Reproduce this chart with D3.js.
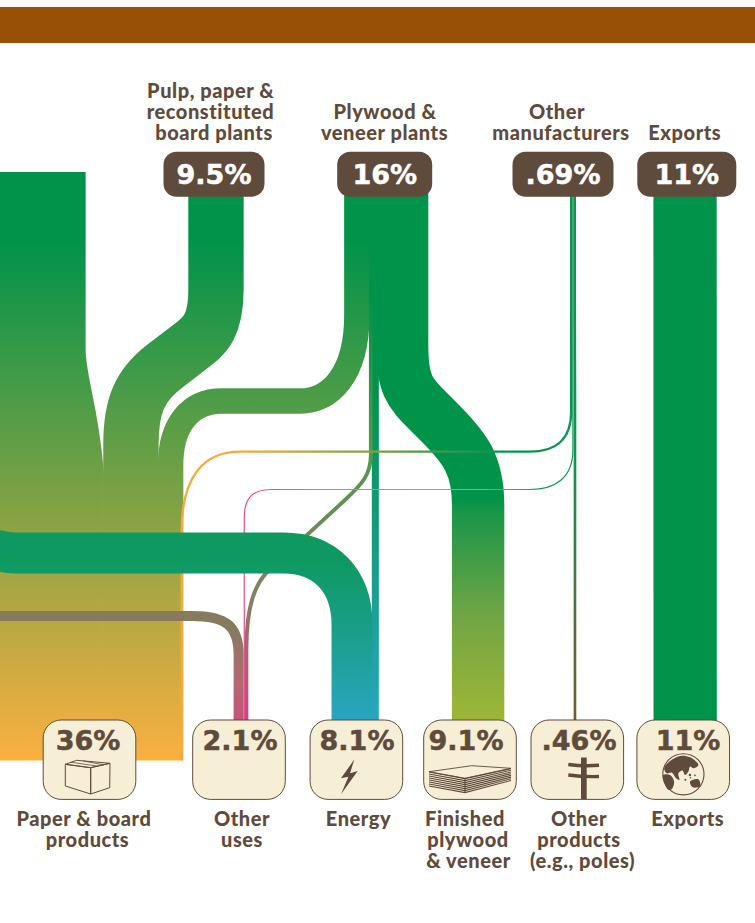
<!DOCTYPE html>
<html>
<head>
<meta charset="utf-8">
<script src="https://d3js.org/d3.v7.min.js"></script>
<style>
  html, body { margin: 0; padding: 0; background: #fff; }
  svg { display: block; }
  .name { font-family: "Lato", sans-serif; font-weight: 900; font-size: 20px; letter-spacing: 0.55px; fill: #5f4b3b; text-anchor: middle; }
  .pct { font-family: "DejaVu Sans", sans-serif; font-weight: 700; font-size: 27px; text-anchor: middle; stroke-width: 0.5px; }
</style>
</head>
<body>
<svg id="chart" width="755" height="923"></svg>
<script>
// Wood flows, in percent of the total supply
const sourceNames = ["Pulp, paper & reconstituted board plants", "Plywood & veneer plants", "Other manufacturers", "Exports"];
const sourceLabels = [["Pulp, paper &", "reconstituted", "board plants"], ["Plywood &", "veneer plants"], ["Other", "manufacturers"], ["Exports"]];
const sourcePercents = ["9.5%", "16%", ".69%", "11%"];

const targetNames = ["Paper & board products", "Other uses", "Energy", "Finished plywood & veneer", "Other products", "Export market"];
const targetLabels = [["Paper & board", "products"], ["Other", "uses"], ["Energy"], ["Finished", "plywood", "& veneer"], ["Other", "products", "(e.g., poles)"], ["Exports"]];
const targetPercents = ["36%", "2.1%", "8.1%", "9.1%", ".46%", "11%"];

const flowSources = ["Sawmills", sourceNames[0], sourceNames[1], sourceNames[2], "Sawmills", sourceNames[2], sourceNames[1], "Sawmills", sourceNames[1], sourceNames[1], sourceNames[2], sourceNames[3]];
const flowTargets = [targetNames[0], targetNames[0], targetNames[0], targetNames[0], targetNames[1], targetNames[1], targetNames[1], targetNames[2], targetNames[2], targetNames[3], targetNames[4], targetNames[5]];
const flowValues = [22.2, 9.5, 4.3, 0.4, 1.75, 0.2, 0.55, 7.0, 1.1, 9.1, 0.46, 11];

const GREEN = "#00934a", BROWN = "#5f4b3b", CREAM = "#f7eed6";

const svg = d3.select("#chart");
const defs = svg.append("defs");

// Band thickness in pixels per percentage point
const thickness = d3.scaleLinear().domain([0, 11]).range([0, 63.3]);

// Column geometry
const targetCenter = d3.scaleOrdinal().domain(targetNames).range([89.5, 239, 356.4, 470, 577.3, 683.2]);
const sourceCenter = d3.scaleOrdinal().domain(sourceNames).range([214, 384.7, 563, 686.8]);
const sourceBadgeWidth = d3.scaleOrdinal().domain(sourceNames).range([101, 95, 101, 99]);
const targetRightEdge = d3.scaleOrdinal().domain(targetNames).range([183, 248, 378.5, 504.3, 576.3, 716.8]);
const sourceEdges = new Map([[sourceNames[0], [188.7, 243.3]], [sourceNames[1], [344.5, 428.3]], [sourceNames[2], [570, 576]], [sourceNames[3], [653.4, 716.7]]]);

const flows = flowValues.map((value, i) => ({ i, value, source: flowSources[i], target: flowTargets[i], w: thickness(value) }));

// Stack bands across each target: the thin manufacturers' band rides on the outer edge of the paper column
for (const name of targetNames) {
  const group = flows.filter(f => f.target === name).reverse();
  let cursor = targetRightEdge(name);
  for (const f of group) {
    if (f.i === 3) continue;
    f.tx = cursor - f.w / 2;
    cursor -= f.w;
  }
}
flows[3].tx = targetRightEdge(targetNames[0]) - flows[3].w / 2 - 0.1;

// Stack bands across each source, the last one flush with the right edge
for (const name of sourceNames) {
  const group = flows.filter(f => f.source === name);
  const [left, right] = sourceEdges.get(name);
  let cursor = left;
  group.forEach((f, k) => {
    f.sx = k === group.length - 1 ? right - f.w / 2 : cursor + f.w / 2;
    cursor += f.w;
  });
}
flows[8].sx = flows[8].tx;

// Routing of every band's centre line
const TOP = 190, PAPER_BOTTOM = 760.5, BOX_TOP = 726;
const routes = [
  (p, f) => { const x0 = f.tx - 18.3; p.moveTo(x0, 172); p.lineTo(x0, 350); p.bezierCurveTo(x0 + 0.7, 390, f.tx - 5.7, 410, f.tx, 475); p.lineTo(f.tx, PAPER_BOTTOM); },
  (p, f) => { p.moveTo(f.sx, TOP); p.lineTo(f.sx, 290); p.bezierCurveTo(f.sx, 325, 205, 335, 195, 343); p.lineTo(165, 366); p.bezierCurveTo(140, 385, f.tx, 405, f.tx, 445); p.lineTo(f.tx, PAPER_BOTTOM); },
  (p, f) => { p.moveTo(f.sx, TOP); p.lineTo(f.sx, 315); p.bezierCurveTo(f.sx, 375, 330, 401, 300, 401); p.lineTo(222, 401); p.bezierCurveTo(190, 401, f.tx, 425, f.tx, 465); p.lineTo(f.tx, PAPER_BOTTOM); },
  (p, f) => { p.moveTo(f.sx, TOP); p.lineTo(f.sx, 412); p.bezierCurveTo(f.sx, 440, 555, 451.7, 530, 451.7); p.lineTo(240, 451.7); p.bezierCurveTo(205, 451.7, f.tx, 475, f.tx, 530); p.lineTo(f.tx, PAPER_BOTTOM); },
  (p, f) => { p.moveTo(-10, 616); p.lineTo(192, 616); p.bezierCurveTo(225, 616, f.tx, 625, f.tx, 655); p.lineTo(f.tx, BOX_TOP); },
  (p, f) => { p.moveTo(f.sx, TOP); p.lineTo(f.sx, 450); p.bezierCurveTo(f.sx, 478, 555, 489.5, 530, 489.5); p.lineTo(272, 489.5); p.bezierCurveTo(253, 489.5, f.tx, 497, f.tx, 518); p.lineTo(f.tx, BOX_TOP); },
  (p, f) => { p.moveTo(f.sx, TOP); p.lineTo(f.sx, 455); p.bezierCurveTo(f.sx, 475, 362, 484, 345, 500); p.lineTo(270, 569); p.bezierCurveTo(255, 583, f.tx, 605, f.tx, 650); p.lineTo(f.tx, BOX_TOP); },
  (p, f) => { p.moveTo(-10, 549); p.bezierCurveTo(0, 551, 5, 553, 15, 553); p.lineTo(283, 553); p.bezierCurveTo(325, 553, f.tx, 580, f.tx, 625); p.lineTo(f.tx, BOX_TOP); },
  (p, f) => { p.moveTo(f.sx, TOP); p.lineTo(f.tx, BOX_TOP); },
  (p, f) => { p.moveTo(f.sx, TOP); p.lineTo(f.sx, 345); p.bezierCurveTo(f.sx, 385, 410, 393, 428, 411); p.lineTo(440, 423); p.bezierCurveTo(465, 448, f.tx, 465, f.tx, 505); p.lineTo(f.tx, BOX_TOP); },
  (p, f) => { p.moveTo(f.sx, TOP); p.lineTo(f.sx, 300); p.lineTo(f.tx, 400); p.lineTo(f.tx, BOX_TOP); },
  (p, f) => { p.moveTo(f.sx, TOP); p.lineTo(f.tx, BOX_TOP); }
];

// Colour along each band: [offset position, colour], vertical unless marked horizontal
const paperRamp = { axis: "y", stops: [[240, GREEN], [760, "#fbb040"]] };
const ramps = [
  paperRamp, paperRamp, paperRamp,
  { axis: "x", stops: [[240, "#f5ac3e"], [500, "#08954d"]] },
  { axis: "y", stops: [[630, "#867b5f"], [680, "#b36a70"], [722, "#c9507a"]] },
  { axis: "x", stops: [[250, "#e2468c"], [330, "#b98a96"], [480, "#8fa88c"], [545, "#0a9650"]] },
  { axis: "y", stops: [[300, GREEN], [450, "#4f9a4e"], [600, "#877e64"], [722, "#d0457a"]] },
  { axis: "y", stops: [[560, "#0e9960"], [722, "#2aa5c0"]] },
  { axis: "y", stops: [[380, GREEN], [722, "#2aa5c0"]] },
  { axis: "y", stops: [[497, GREEN], [513, "#1a9549"], [613, "#6fa544"], [722, "#9fb637"]] },
  { axis: "y", stops: [[450, "#0e9650"], [722, "#755a2e"]] },
  { axis: "y", stops: [[0, GREEN], [1, GREEN]] }
];

ramps.forEach((ramp, i) => {
  const lo = ramp.stops[0][0], hi = ramp.stops[ramp.stops.length - 1][0];
  const g = defs.append("linearGradient").attr("id", "ramp" + i).attr("gradientUnits", "userSpaceOnUse")
    .attr("x1", ramp.axis === "x" ? lo : 0).attr("x2", ramp.axis === "x" ? hi : 0)
    .attr("y1", ramp.axis === "y" ? lo : 0).attr("y2", ramp.axis === "y" ? hi : 0);
  ramp.stops.forEach(([at, colour]) => g.append("stop").attr("offset", (at - lo) / (hi - lo)).attr("stop-color", colour));
});

// Page furniture
svg.append("rect").attr("width", 755).attr("height", 7).attr("fill", "#f9f9f9");
svg.append("rect").attr("y", 7).attr("width", 755).attr("height", 36).attr("fill", "#975006");

// Bands, painted so the crossing lines fall in the right order.
// Neighbouring wide bands overlap by a hair so no pale seam shows between them.
const seamOverlap = new Set([0, 1, 2, 6, 8, 7]);
const paintOrder = [0, 1, 2, 11, 9, 8, 6, 10, 3, 5, 4, 7];
svg.append("g").attr("fill", "none").selectAll("path")
  .data(paintOrder.map(i => flows[i]))
  .join("path")
  .attr("d", f => { const p = d3.path(); routes[f.i](p, f); return p.toString(); })
  .attr("stroke", f => f.i === 11 ? GREEN : `url(#ramp${f.i})`)
  .attr("stroke-width", f => f.w + (seamOverlap.has(f.i) ? 0.7 : 0));

// One text element per label, with a tspan for each line
function multiline(group, lines, centers, lineY) {
  const label = group.append("text").attr("class", "name");
  lines.forEach((line, k) => label.append("tspan").attr("x", centers[k]).attr("y", lineY(k)).text(line));
}

// Source badges and names
const BADGE_TOP = 151.7, BADGE_H = 45;
const srcLabelCenters = [[210.7, 210.5, 214], [385, 384.5], [557, 561], [684.8]];
const sourceGroups = svg.append("g").selectAll("g").data(sourceNames).join("g");
sourceGroups.append("rect")
  .attr("x", d => sourceCenter(d) - sourceBadgeWidth(d) / 2).attr("y", BADGE_TOP)
  .attr("width", d => sourceBadgeWidth(d)).attr("height", BADGE_H).attr("rx", 13).attr("fill", BROWN);
sourceGroups.append("text").attr("class", "pct").attr("fill", "#fff").attr("stroke", "#fff")
  .attr("x", d => sourceCenter(d)).attr("y", BADGE_TOP + 32)
  .text((d, i) => sourcePercents[i]);
sourceGroups.each(function (d, i) {
  const lines = sourceLabels[i];
  multiline(d3.select(this), lines, srcLabelCenters[i], k => 140 - 20.9 * (lines.length - 1 - k));
});

// Target boxes, percentages, icons and names
const BOX_W = 92.6, BOX_H = 79.4, BOX_Y = 720;
const tgtLabelCenters = [[84, 87.5], [242, 242], [358.5], [465, 468, 468.5], [579, 579, 582.5], [687.8]];
const tgtPercentCenters = [88, 240, 357, 466, 579, 688];
const targetGroups = svg.append("g").selectAll("g").data(targetNames).join("g");
targetGroups.append("rect")
  .attr("x", d => targetCenter(d) - BOX_W / 2).attr("y", BOX_Y)
  .attr("width", BOX_W).attr("height", BOX_H).attr("rx", 18)
  .attr("fill", CREAM).attr("stroke", BROWN).attr("stroke-width", 1);
targetGroups.append("text").attr("class", "pct").attr("fill", BROWN).attr("stroke", BROWN)
  .attr("x", (d, i) => tgtPercentCenters[i]).attr("y", BOX_Y + 30)
  .text((d, i) => targetPercents[i]);
targetGroups.each(function (d, i) {
  multiline(d3.select(this), targetLabels[i], tgtLabelCenters[i], k => 825.7 + 21 * k);
});

// Icons, drawn in each box's own coordinates
const icon = name => svg.append("g").attr("transform", `translate(${targetCenter(name)},${BOX_Y})`)
  .attr("fill", "none").attr("stroke", BROWN).attr("stroke-width", 1);
const poly = pts => d3.line()(pts) + "Z";

// Carton
const carton = icon(targetNames[0]);
[[[-24.2, 44.3], [-12.8, 40.3], [20.5, 43.3], [1.2, 47.7]],
 [[-24.2, 44.3], [1.2, 47.7], [1.2, 74], [-24.2, 66]],
 [[1.2, 47.7], [20.5, 43.3], [20.2, 67.7], [1.2, 74]]].forEach(f => carton.append("path").attr("d", poly(f)));
carton.append("path").attr("d", "M-18.5,42.3L8,46.1M-6.5,40.9L14,44.8").attr("stroke-width", 0.8);

// Lightning bolt
icon(targetNames[2]).append("path")
  .attr("d", poly([[-2, 39.3], [-15.4, 58.3], [-8, 56.7], [-15.4, 74.3], [1.3, 51], [-6.4, 53.3]]))
  .attr("fill", BROWN).attr("stroke", "none");

// Stack of veneer sheets
const sheets = icon(targetNames[3]);
sheets.append("path").attr("d", poly([[-41, 51.7], [1.7, 45.7], [41, 48.3], [-5, 58.3]])).attr("stroke-width", 0.9);
d3.range(0, 8).forEach(k => {
  const dy = k * 2;
  sheets.append("path").attr("d", d3.line()([[-41, 52 + dy], [-5, 58.6 + dy], [41, 48.6 + dy * 0.85]])).attr("stroke-width", 1.1);
});
sheets.append("path").attr("d", "M-5,58.3V72.7").attr("stroke-width", 1.2);

// Utility pole
const pole = icon(targetNames[4]);
pole.append("rect").attr("x", 3.7).attr("y", 37.5).attr("width", 5.7).attr("height", 41.5).attr("fill", BROWN).attr("stroke", "none");
pole.append("path").attr("d", "M-9,44.5Q6,46.5 21.7,45.3M-9,55Q6,57 21.7,56.5").attr("stroke-width", 3.4);

// Globe
const globe = icon(targetNames[5]).append("g").attr("transform", "translate(0.2,54.3)");
globe.append("circle").attr("r", 20.6).attr("stroke-width", 1.1);
const blob = d3.line().curve(d3.curveCatmullRomClosed);
[[[-14, -12.7], [-3.3, -18.3], [6.7, -17], [15, -9.3], [10, -6], [6.7, -7.7], [5, -2.7], [1.7, 0.7], [-1, -3.7], [-5, -1], [-4, 5.7], [-7.3, 4], [-11.7, -1.7], [-16.7, -1], [-19.3, -6]],
 [[-20.2, 0.7], [-13.3, 0.7], [-9.3, 7.3], [-11.7, 15], [-15, 15.5], [-18.3, 10.7]],
 [[6.7, 7.3], [15, 5], [16.7, 11.7], [9.3, 13]]].forEach(shape =>
  globe.append("path").attr("d", blob(shape)).attr("fill", BROWN).attr("stroke", "none"));
[[6.5, 0.7, 1.2], [11.5, 1, 0.9], [2, 5.5, 1], [7, 3.5, 0.8]].forEach(([x, y, r]) =>
  globe.append("circle").attr("cx", x).attr("cy", y).attr("r", r).attr("fill", BROWN).attr("stroke", "none"));
</script>
</body>
</html>
